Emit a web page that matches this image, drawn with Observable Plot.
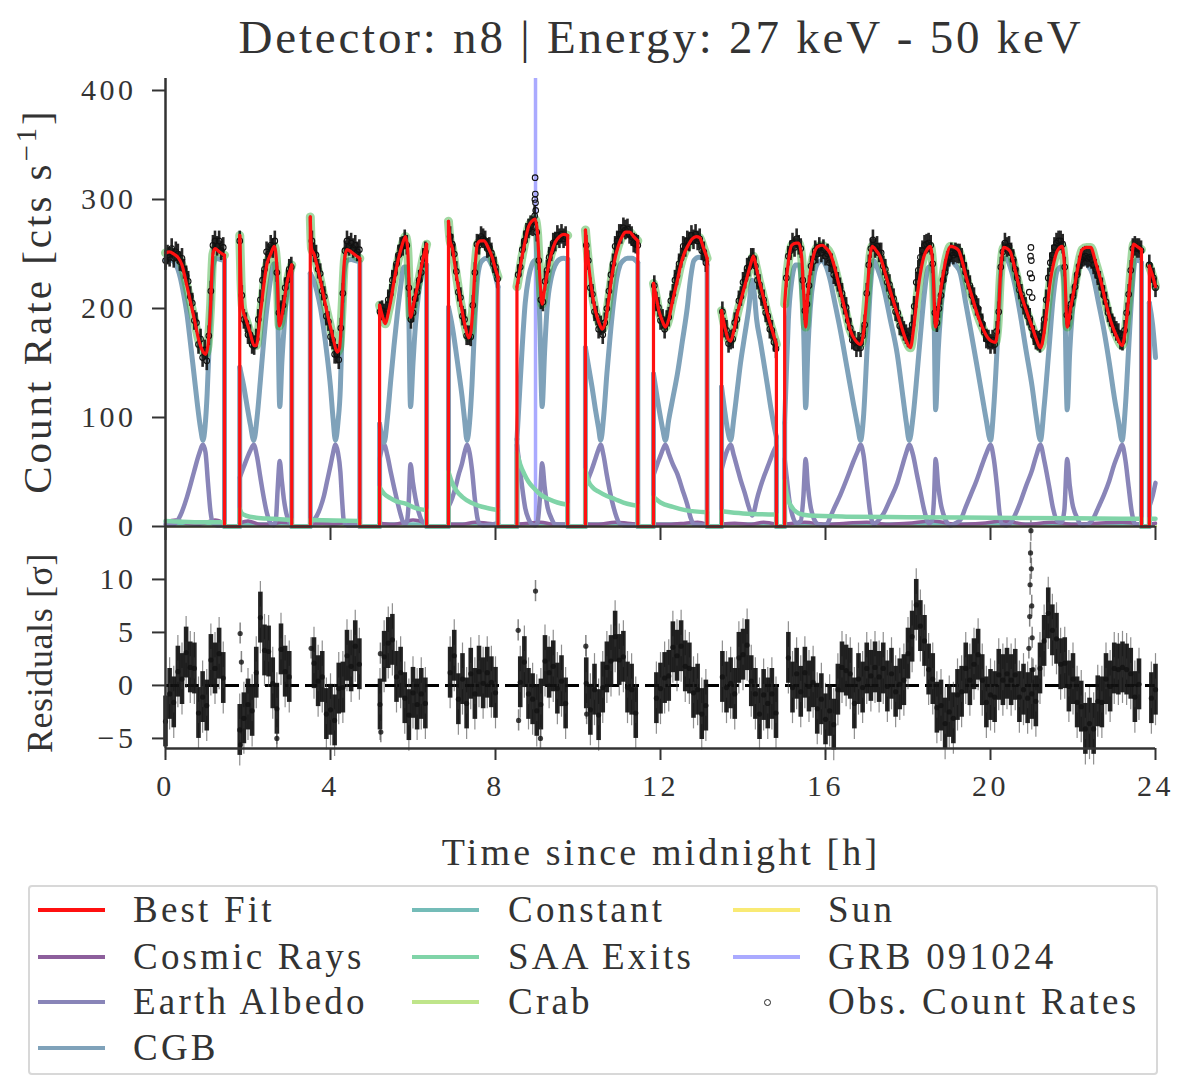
<!DOCTYPE html>
<html>
<head>
<meta charset="utf-8">
<script src="https://cdn.jsdelivr.net/npm/d3@7"></script>
<script src="https://cdn.jsdelivr.net/npm/@observablehq/plot@0.6"></script>
<style>
  body { margin: 0; background: #fff; }
  #wrap { position: relative; width: 1200px; height: 1078px; overflow: hidden;
          font-family: "Liberation Serif", serif; color: #333; }
  #wrap svg { position: absolute; left: 0; }
  #wrap svg text { letter-spacing: 3.5px; }
  .lbl { position: absolute; white-space: nowrap; line-height: 1; }
  .rot { transform: translate(-50%, -50%) rotate(-90deg); }
  .ctr { transform: translate(-50%, -50%); }
  #legend { position: absolute; left: 28px; top: 885px; width: 1126px; height: 186px;
            border: 2px solid #d8d8d8; border-radius: 4px; }
  .key { position: absolute; height: 4px; width: 67px; }
  .ktxt { position: absolute; font-size: 37px; letter-spacing: 3.2px; transform: translateY(-52%); white-space: nowrap; line-height: 1; }
</style>
</head>
<body>
<div id="wrap"></div>
<script>
// ---- data ----
// data segments (hours); the detector is off (SAA) between them
const segStart = [0, 1.80, 3.51, 5.19, 6.86, 8.52, 10.18, 11.83, 13.48, 15.01, 23.85]
const segEnd   = [1.43, 3.06, 4.71, 6.33, 8.06, 9.75, 11.45, 13.13, 14.81, 23.66, 24]

// best fit [t, cts/s], one array per segment
const bestFit = [
  [[0,251],[0.1,252],[0.2,250],[0.3,247],[0.4,240],[0.5,224],[0.6,207],[0.7,190],[0.8,172],[0.9,161],[0.97,158],[1.03,166],[1.09,200],[1.15,250],[1.2,255],[1.3,252],[1.43,249]],
  [[1.80,267],[1.83,225],[1.87,200],[1.95,190],[2.05,178],[2.15,166],[2.2,166],[2.3,195],[2.46,241],[2.55,250],[2.64,257],[2.7,238],[2.76,184],[2.85,200],[2.95,225],[3.06,240]],
  [[3.51,284],[3.54,255],[3.6,250],[3.67,240],[3.76,225],[3.84,210],[3.92,196],[4.0,183],[4.08,170],[4.16,160],[4.22,164],[4.28,200],[4.34,245],[4.4,254],[4.5,252],[4.6,249],[4.71,246]],
  [[5.19,203],[5.26,193],[5.33,186],[5.40,196],[5.46,207],[5.54,225],[5.62,241],[5.72,256],[5.82,266],[5.87,255],[5.94,192],[6.02,205],[6.14,226],[6.24,245],[6.33,259]],
  [[6.86,280],[6.90,262],[6.95,256],[7.03,236],[7.11,216],[7.19,198],[7.27,183],[7.35,173],[7.40,178],[7.45,200],[7.50,235],[7.56,259],[7.64,262],[7.72,262],[7.82,256],[7.92,247],[8.0,236],[8.06,229]],
  [[8.52,220],[8.58,233],[8.64,247],[8.72,262],[8.80,275],[8.88,280],[8.96,282],[9.02,268],[9.08,225],[9.13,204],[9.19,218],[9.25,232],[9.35,250],[9.45,261],[9.55,266],[9.65,268],[9.75,267]],
  [[10.18,272],[10.22,255],[10.30,226],[10.36,210],[10.42,198],[10.50,188],[10.59,181],[10.67,189],[10.75,210],[10.83,232],[10.91,248],[10.99,259],[11.07,266],[11.15,270],[11.25,270],[11.35,266],[11.45,262]],
  [[11.83,223],[11.90,210],[11.96,198],[12.04,189],[12.12,183],[12.20,190],[12.28,205],[12.41,226],[12.49,240],[12.57,250],[12.67,258],[12.77,264],[12.87,266],[12.95,265],[13.03,257],[13.13,246]],
  [[13.48,198],[13.56,183],[13.64,172],[13.70,170],[13.78,180],[13.86,195],[13.98,212],[14.10,229],[14.18,240],[14.25,248],[14.32,238],[14.39,226],[14.49,211],[14.59,195],[14.70,181],[14.81,167]],
  [[15.01,204],[15.05,225],[15.10,243],[15.18,258],[15.28,260],[15.35,260],[15.42,248],[15.47,215],[15.52,183],[15.57,212],[15.63,233],[15.72,250],[15.82,257],[15.92,258],[16.00,256],[16.12,250],[16.24,235],[16.36,216],[16.48,198],[16.60,180],[16.72,171],[16.85,167],[16.93,180],[17.01,215],[17.08,248],[17.13,257],[17.23,253],[17.33,247],[17.45,232],[17.57,216],[17.70,200],[17.82,186],[17.94,172],[18.06,164],[18.14,183],[18.22,210],[18.30,232],[18.38,247],[18.46,254],[18.54,257],[18.60,240],[18.67,183],[18.75,205],[18.83,226],[18.93,247],[19.03,257],[19.13,256],[19.23,253],[19.33,241],[19.43,226],[19.56,210],[19.68,195],[19.80,183],[19.92,174],[20.02,170],[20.12,169],[20.18,185],[20.24,230],[20.32,256],[20.40,255],[20.48,252],[20.60,235],[20.72,216],[20.86,199],[21.01,183],[21.11,172],[21.21,164],[21.30,178],[21.37,200],[21.45,225],[21.54,243],[21.62,253],[21.74,257],[21.80,235],[21.86,183],[21.94,200],[22.02,216],[22.12,238],[22.22,254],[22.33,256],[22.43,256],[22.55,242],[22.67,226],[22.79,206],[22.91,189],[23.05,175],[23.19,166],[23.27,180],[23.35,210],[23.42,243],[23.47,259],[23.55,257],[23.66,254]],
  [[23.85,239],[23.93,230],[24,220]]
]

const cgb = [
  [[0,244],[0.1,245],[0.2,243],[0.3,236],[0.36,228],[0.44,213],[0.52,195],[0.6,170],[0.69,140],[0.77,113],[0.85,90],[0.91,79],[0.96,92],[1.01,122],[1.06,168],[1.11,212],[1.16,240],[1.22,246],[1.32,245],[1.43,244]],
  [[1.80,146],[1.9,128],[1.98,110],[2.06,93],[2.14,79],[2.22,100],[2.30,134],[2.38,170],[2.46,201],[2.54,225],[2.63,241],[2.68,238],[2.72,200],[2.77,110],[2.82,150],[2.87,180],[2.93,210],[2.99,232],[3.06,238]],
  [[3.51,232],[3.59,226],[3.67,216],[3.76,200],[3.84,180],[3.92,156],[4.0,128],[4.06,100],[4.12,79],[4.18,95],[4.24,128],[4.28,180],[4.32,226],[4.36,240],[4.40,244],[4.5,245],[4.6,244],[4.71,243]],
  [[5.19,94],[5.25,82],[5.30,77],[5.38,100],[5.46,134],[5.54,166],[5.62,195],[5.70,220],[5.78,238],[5.84,238],[5.89,210],[5.94,110],[6.0,150],[6.06,185],[6.14,215],[6.22,232],[6.33,240]],
  [[6.86,201],[6.95,184],[7.03,164],[7.11,142],[7.19,119],[7.25,98],[7.31,79],[7.37,95],[7.43,130],[7.50,190],[7.56,226],[7.62,240],[7.68,244],[7.78,246],[7.88,242],[7.95,236],[8.06,220]],
  [[8.52,80],[8.58,120],[8.64,160],[8.72,205],[8.80,228],[8.88,240],[8.96,244],[9.02,238],[9.08,180],[9.13,110],[9.19,160],[9.25,200],[9.35,228],[9.45,240],[9.55,245],[9.65,246],[9.75,245]],
  [[10.18,164],[10.26,146],[10.34,128],[10.42,108],[10.50,90],[10.55,79],[10.62,100],[10.70,140],[10.78,175],[10.86,205],[10.94,228],[11.02,240],[11.10,244],[11.2,246],[11.31,246],[11.45,242]],
  [[11.83,140],[11.92,118],[12.0,100],[12.06,88],[12.12,79],[12.20,98],[12.30,118],[12.41,140],[12.53,170],[12.65,201],[12.73,228],[12.81,244],[12.93,247],[13.03,246],[13.13,240]],
  [[13.48,128],[13.55,108],[13.62,90],[13.70,79],[13.78,100],[13.86,125],[13.94,150],[14.04,175],[14.14,200],[14.22,226],[14.27,215],[14.33,190],[14.42,170],[14.51,149],[14.59,130],[14.67,110],[14.74,95],[14.81,82]],
  [[15.01,95],[15.05,140],[15.10,190],[15.18,225],[15.28,240],[15.36,240],[15.42,220],[15.47,180],[15.52,109],[15.57,160],[15.63,200],[15.72,230],[15.82,242],[15.92,244],[16.0,240],[16.12,225],[16.20,210],[16.36,180],[16.52,146],[16.68,112],[16.78,92],[16.85,79],[16.92,100],[17.01,164],[17.09,220],[17.17,244],[17.27,236],[17.41,219],[17.57,190],[17.74,158],[17.88,118],[17.96,95],[18.03,79],[18.12,100],[18.22,140],[18.30,175],[18.40,215],[18.50,238],[18.58,238],[18.63,200],[18.67,107],[18.73,160],[18.79,195],[18.90,230],[19.03,244],[19.15,240],[19.27,232],[19.40,205],[19.52,180],[19.66,150],[19.80,119],[19.90,97],[20.00,79],[20.08,110],[20.16,164],[20.22,215],[20.28,244],[20.38,246],[20.48,238],[20.60,220],[20.72,195],[20.86,162],[21.01,128],[21.11,100],[21.21,79],[21.30,110],[21.42,164],[21.52,210],[21.62,235],[21.72,238],[21.79,220],[21.86,107],[21.92,160],[21.98,195],[22.10,228],[22.22,244],[22.35,240],[22.47,232],[22.62,205],[22.75,180],[22.88,150],[23.00,119],[23.10,97],[23.19,79],[23.27,110],[23.35,164],[23.43,215],[23.51,244],[23.60,244],[23.66,242]],
  [[23.85,205],[23.93,185],[24,155]]
]

const earthAlbedo = [
  [[0,2],[0.2,2],[0.36,10],[0.52,27],[0.69,50],[0.81,66],[0.91,75],[0.97,68],[1.03,40],[1.09,14],[1.15,3],[1.25,1],[1.43,1]],
  [[1.80,45],[1.9,55],[1.98,63],[2.06,70],[2.14,75],[2.22,64],[2.30,45],[2.38,27],[2.46,12],[2.55,3],[2.63,1],[2.68,8],[2.72,35],[2.77,60],[2.82,42],[2.87,25],[2.93,12],[3.0,4],[3.06,2]],
  [[3.51,3],[3.6,6],[3.67,10],[3.76,18],[3.84,28],[3.92,42],[4.0,56],[4.06,67],[4.12,75],[4.18,68],[4.24,50],[4.28,25],[4.32,6],[4.4,1],[4.71,1]],
  [[5.19,62],[5.25,72],[5.30,75],[5.38,65],[5.46,50],[5.54,36],[5.62,23],[5.70,11],[5.78,3],[5.84,3],[5.89,18],[5.94,57],[6.0,40],[6.06,26],[6.14,13],[6.22,5],[6.33,2]],
  [[6.86,18],[6.95,26],[7.03,36],[7.11,48],[7.19,58],[7.25,68],[7.31,75],[7.37,68],[7.43,52],[7.50,25],[7.56,8],[7.62,2],[7.7,1],[8.06,3]],
  [[8.52,75],[8.58,57],[8.64,38],[8.72,17],[8.80,7],[8.88,2],[8.96,1],[9.02,4],[9.08,28],[9.13,58],[9.19,37],[9.25,20],[9.35,8],[9.45,2],[9.75,1]],
  [[10.18,36],[10.26,45],[10.34,53],[10.42,62],[10.50,71],[10.55,75],[10.62,65],[10.70,47],[10.78,31],[10.86,18],[10.94,8],[11.02,2],[11.2,1],[11.45,1]],
  [[11.83,47],[11.92,57],[12.0,65],[12.06,71],[12.12,75],[12.20,67],[12.30,57],[12.41,48],[12.53,34],[12.65,20],[12.73,8],[12.81,2],[13.13,1]],
  [[13.48,52],[13.55,62],[13.62,70],[13.70,75],[13.78,65],[13.86,54],[13.94,43],[14.04,31],[14.14,18],[14.22,10],[14.27,14],[14.33,24],[14.42,36],[14.51,46],[14.59,54],[14.67,62],[14.74,69],[14.81,74]],
  [[15.01,62],[15.06,45],[15.12,25],[15.2,10],[15.3,3],[15.4,5],[15.46,25],[15.52,62],[15.57,38],[15.63,20],[15.72,7],[15.82,2],[15.95,1],[16.05,3],[16.12,9],[16.20,16],[16.36,29],[16.52,44],[16.68,60],[16.78,69],[16.85,75],[16.92,66],[17.01,36],[17.09,11],[17.17,2],[17.27,5],[17.41,12],[17.57,25],[17.74,40],[17.88,58],[17.96,68],[18.03,75],[18.12,66],[18.22,47],[18.30,32],[18.40,14],[18.50,3],[18.58,5],[18.63,25],[18.67,62],[18.73,38],[18.79,22],[18.90,7],[19.03,1],[19.15,3],[19.27,6],[19.40,18],[19.52,29],[19.66,42],[19.80,57],[19.90,67],[20.00,75],[20.08,62],[20.16,36],[20.22,12],[20.28,2],[20.38,1],[20.48,3],[20.60,11],[20.72,22],[20.86,37],[21.01,52],[21.11,65],[21.21,75],[21.30,61],[21.42,37],[21.52,16],[21.62,5],[21.72,4],[21.79,15],[21.86,62],[21.92,38],[21.98,22],[22.10,8],[22.22,1],[22.35,2],[22.47,6],[22.62,18],[22.75,29],[22.88,42],[23.00,57],[23.10,67],[23.19,75],[23.27,61],[23.35,36],[23.43,12],[23.51,2],[23.66,2]],
  [[23.85,18],[23.93,28],[24,40]]
]

const saaExits = [
  [[0,5],[0.7,4],[1.43,4]],
  [[1.80,16],[1.85,12],[1.95,10],[2.2,8],[2.6,7],[3.06,6]],
  [[3.51,6],[4.71,5]],
  [[5.19,36],[5.3,30],[5.45,26],[5.6,23],[5.82,21],[6.05,17],[6.33,15]],
  [[6.86,50],[6.95,40],[7.05,33],[7.2,27],[7.4,22],[7.6,19],[7.8,17],[8.06,15]],
  [[8.52,68],[8.6,57],[8.7,48],[8.8,41],[8.96,34],[9.1,29],[9.3,25],[9.5,22],[9.75,20]],
  [[10.18,52],[10.25,42],[10.35,36],[10.5,32],[10.7,28],[10.9,25],[11.1,22],[11.3,20],[11.45,19]],
  [[11.83,27],[12.0,22],[12.3,18],[12.6,15],[13.13,13]],
  [[13.48,14],[14.0,12],[14.81,11]],
  [[15.01,42],[15.06,30],[15.12,22],[15.2,17],[15.35,12],[15.6,10],[16.5,9],[18,8.5],[20,8],[22,7.5],[23.66,7]],
  [[23.85,7],[24,7]]
]

const cosmicRays = [
  [[0,4],[0.25,6],[0.5,3],[0.8,2],[1.1,5],[1.2,6],[1.43,3]],
  [[1.80,3],[2.0,5],[2.3,2],[2.6,2],[2.8,4],[3.06,3]],
  [[3.51,2],[3.8,3],[4.1,2],[4.4,4],[4.71,2]],
  [[5.19,3],[5.5,2],[5.8,4],[6.0,6],[6.33,3]],
  [[6.86,2],[7.2,2],[7.5,4],[7.8,3],[8.06,2]],
  [[8.52,2],[8.8,3],[9.1,4],[9.4,2],[9.75,2]],
  [[10.18,2],[10.5,2],[10.9,4],[11.2,3],[11.45,2]],
  [[11.83,2],[12.2,2],[12.6,3],[12.9,4],[13.13,2]],
  [[13.48,2],[13.8,3],[14.2,2],[14.5,4],[14.81,2]],
  [[15.01,2],[15.5,4],[16.0,2],[16.5,3],[17.0,4],[17.5,2],[18.0,3],[18.6,5],[19.2,2],[19.8,3],[20.3,5],[20.9,2],[21.5,4],[22.0,2],[22.6,3],[23.2,4],[23.66,2]],
  [[23.85,2],[24,3]]
]

const constantRate = 2.6
const crabRate = 1.3
const sunRate = 0.5
const grbTime = 8.97

// observed count rates, sampled every 0.05 h: [first time, values]
const obsStep = 0.05
const obsScatter = 9   // half-width of the cloud of short bins around each value, cts/s
const obsBlocks = [
  [0.00, [244,249,247,255,246,252,250,243,246,236,230,225,211,205,189,187,167,172,155,162,152,175,216,258,262,257,262,253,256]],
  [1.80, [262,212,190,187,176,176,167,166,172,190,208,226,236,252,250,258,255,262,233,196,198,203,219,226,236,238]],
  [3.55, [262,251,249,236,232,216,211,193,188,174,171,158,158,153,182,214,253,262,257,260,255,258,252,254]],
  [5.20, [197,198,195,197,208,213,226,232,241,249,256,257,263,258,219,190,196,209,215,226,233,246,252]],
  [6.90, [266,259,250,234,215,210,193,190,175,175,174,203,233,259,258,266,264,262,255,256,251,241,238,227]],
  [8.55, [231,238,254,262,269,273,276,275,285,270,244,208,206,225,235,247,252,260,261,267,264,268,264,266]],
  [10.20, [258,244,219,213,197,193,181,184,176,187,200,216,231,241,257,262,268,268,274,272,273,268,266,260,259,258]],
  [11.85, [221,206,201,189,190,181,189,192,207,213,226,230,241,246,257,256,262,261,267,263,268,262,264,253,252,242]],
  [13.50, [197,182,180,168,171,172,187,190,207,211,224,227,237,238,246,246,239,226,222,211,208,196,193,181,180,169,163]],
  [15.05, [228,248,253,260,256,264,258,255,226,198,204,221,239,243,253,250,256,251,254]],
  [16.00, [248,250,242,241,231,229,224,219,214,203,201,189,182,171,170,164,169,164,175,185]],
  [17.00, [214,240,255,263,255,257,251,251,239,236,224,222,211,209,197,196,184,183,179,176]],
  [18.00, [173,174,185,202,224,235,247,253,258,259,260,258,241,196,187,200,212,226,233,243]],
  [19.00, [247,251,249,251,250,250,246,240,233,226,221,212,210,202,200,192,186,178,172,171]],
  [20.00, [167,171,167,179,197,238,252,260,256,257,251,245,236,228,217,213,203,201,193,191]],
  [21.00, [182,175,171,170,168,178,190,208,228,242,249,256,260,262,262,259,238,194,192,204]],
  [22.00, [211,220,231,239,245,247,248,246,247,245,240,236,230,225,219,212,206,196,192,186]],
  [23.00, [183,179,177,171,170,180,196,213,235,255,257,255,255,253]],
  [23.85, [240,232,228,219]]
]
// single bins off the regular grid (burst at 8.97 h, transient near 21 h)
const obsExtra = [[8.955,300],[8.96,320],[8.965,305],[8.97,297],[8.975,290],
  [20.94,215],[20.96,232],[20.97,248],[20.98,256],[20.99,244],[21.00,228],[21.01,210]]

// residuals in sigma, sampled every 0.1 h
const residStep = 0.1
const residScatter = 2.4   // half-width of the residual cloud around each value, sigma
const residBlocks = [
  [0.0, [-3.4,-0.8,-1.6,1.3,0.6,3.1,1.7,1.6,-2.6,-1.1,-1.9,2.4,1.6,3.0,0.7]],
  [1.8, [-4.2,-3.1,-1.8,-2.4,1.2,6.4,3.3,3.2,0.2,-2.2,3.4,1.3,0.8]],
  [3.6, [2.1,0.4,0.8,-2.7,-2.3,-3.3,-0.3,-0.2,2.8,1.8,3.7,2.0]],
  [5.2, [-1.8,2.7,4.0,4.3,0.8,1.2,-1.2,-2.8,-0.7,-1.8,-0.8,-1.7]],
  [6.9, [1.2,2.8,-1.3,0.6,-1.7,1.1,-0.8,1.3,0.2,1.2,0.3,-0.7]],
  [8.6, [0.3,2.2,-0.8,-1.3,-2.4,-1.8,2.3,1.2,1.8,-0.3,0.4,-1.7]],
  [10.2, [0.2,-2.3,-0.4,-2.8,-0.2,1.7,2.3,4.6,2.4,2.7,-0.2,-0.4,-2.6]],
  [11.9, [-1.2,-0.3,0.7,0.9,3.6,2.8,3.7,1.8,1.6,-0.7,-0.4,-2.7,-1.9]],
  [13.5, [0.8,-0.2,0.2,-0.8,2.6,2.9,3.8,0.4,-0.8,-2.7,-0.9,-1.7,-0.8,-2.6]],
  [15.1, [2.6,-0.2,1.1,-0.6,1.2,-0.1,0.3,-2.2,-1.3]],
  [16.0, [-3.2,-2.4,-3.7,-0.4,1.7,1.4,1.1,-1.7,0.6,-0.2]],
  [17.0, [1.6,0.9,1.7,0.8,1.6,-0.1,1.1,-0.6,0.1,0.5]],
  [18.0, [3.0,4.6,7.6,5.6,4.2,1.5,0.6,-2.1,-1.9,-3.6]],
  [19.0, [-2.5,-3.1,-0.9,-0.6,1.6,0.5,2.0,2.9,0.5,-1.6]],
  [20.0, [-0.9,-1.1,1.0,0.5,1.1,0.5,1.0,-1.1,-0.4,-1.2]],
  [21.0, [-0.8,-1.5,1.6,4.2,6.8,5.2,4.4,2.0,2.1,-0.1]],
  [22.0, [0.6,-1.6,-2.0,-4.1,-3.6,-4.1,-1.5,-1.6,0.6,-0.1]],
  [23.0, [1.6,1.5,1.7,1.5,1.1,-1.1,0.1]],
  [23.9, [-1.2,-0.4]]
]
const residExtra = [[1.81,4.9],[1.82,-5.6],[1.84,2.2],[2.7,-5.0],[3.53,3.5],[5.21,3.0],[5.22,-4.4],
  [8.55,5.2],[8.56,-3.3],[8.97,8.9],[9.09,-5.0],[10.19,3.7],[10.21,-2.7],
  [20.93,3.5],[20.95,6.5],[20.96,9.5],[20.97,12.5],[20.98,14.6],[20.99,11],[21.0,7.5],[21.01,4.5],[21.03,1.5]]

const xTicks = [0, 4, 8, 12, 16, 20, 24]
const rateTicks = [0, 100, 200, 300, 400]
const residTicks = [-5, 0, 5, 10]
const rateDomain = [0, 411]
const residDomain = [-5.95, 14.9]

const colors = {
  bestFit: "#ff1010", cosmic: "#8d5f9c", albedo: "#8985b8", cgb: "#7fa2ba",
  constant: "#74bcb8", saa: "#80d4a8", crab: "#bfe58a", sun: "#f9ea74", grb: "#aaaaff"
}

// ---- helpers ----
const blocks = (list, step) => list.flatMap(([t0, vals]) => vals.map((v, i) => ({t: +(t0 + i * step).toFixed(3), v})))
const pairs = list => list.map(([t, v]) => ({t, v}))
const flat = v => segStart.map((s, i) => [[s, v], [segEnd[i], v]])

// smooth curve inside each segment, straight drop to zero across each gap
function component(segs, stroke, strokeWidth) {
  const curves = [], joins = []
  segs.forEach((s, i) => {
    s.forEach(([t, v]) => curves.push({t, v, z: i}))
    if (i < segs.length - 1) {
      const a = s[s.length - 1], b = segs[i + 1][0]
      joins.push({t: a[0], v: a[1], z: i}, {t: a[0], v: 0, z: i}, {t: b[0], v: 0, z: i}, {t: b[0], v: b[1], z: i})
    }
  })
  return [
    Plot.line(joins, {x: "t", y: "v", z: "z", stroke, strokeWidth, strokeLinejoin: "round"}),
    Plot.line(curves, {x: "t", y: "v", z: "z", stroke, strokeWidth, curve: "monotone-x", strokeLinejoin: "round"})
  ]
}

const obsGrid = blocks(obsBlocks, obsStep)
const obs = obsGrid.concat(pairs(obsExtra))
const residGrid = blocks(residBlocks, residStep)
const resid = residGrid.concat(pairs(residExtra))
const fitCurves = bestFit.flatMap((s, i) => s.map(([t, v]) => ({t, v, z: i})))

const axisStyle = {fontFamily: "Liberation Serif, serif", fontSize: "30px", color: "#333", background: "transparent", overflow: "visible"}
const minus = d => d < 0 ? "\u2212" + Math.abs(d) : String(d)

const upperPanel = Plot.plot({
  width: 1200, height: 546,
  marginLeft: 165, marginRight: 45, marginTop: 78, marginBottom: 20,
  style: axisStyle,
  x: {domain: [0, 24]},
  y: {domain: rateDomain},
  marks: [
    Plot.ruleX([grbTime], {stroke: colors.grb, strokeWidth: 3.5}),
    ...component(flat(sunRate), colors.sun, 3),
    ...component(flat(crabRate), colors.crab, 3),
    ...component(flat(constantRate), colors.constant, 3),
    ...component(cosmicRays, colors.cosmic, 3.5),
    ...component(earthAlbedo, colors.albedo, 4.5),
    ...component(cgb, colors.cgb, 5),
    ...component(saaExits, colors.saa, 4.5),
    Plot.line(fitCurves, {x: "t", y: "v", z: "z", stroke: "#2ea82e", strokeOpacity: 0.45, strokeWidth: 9, curve: "monotone-x"}),
    Plot.ruleX(obsGrid, {x: "t", y1: d => d.v - obsScatter, y2: d => d.v + obsScatter, stroke: "#111", strokeOpacity: 0.9, strokeWidth: 2.6}),
    Plot.dot(obs, {x: "t", y: "v", r: 2.8, stroke: "#111", strokeWidth: 1.1, fill: "none"}),
    ...component(bestFit, colors.bestFit, 3.2),
    Plot.ruleX([0], {stroke: "#333", strokeWidth: 2.5}),
    Plot.ruleY([rateDomain[0]], {stroke: "#333", strokeWidth: 2.5}),
    Plot.axisX({ticks: xTicks, tickSize: 14, tickFormat: () => "", label: null, strokeWidth: 2, stroke: "#333"}),
    Plot.axisY({ticks: rateTicks, tickSize: 13, tickPadding: 16, label: null, strokeWidth: 2, stroke: "#333", fontSize: 30})
  ]
})
upperPanel.style.top = "0px"

const lowerPanel = Plot.plot({
  width: 1200, height: 330,
  marginLeft: 165, marginRight: 45, marginTop: 27, marginBottom: 82,
  style: axisStyle,
  x: {domain: [0, 24]},
  y: {domain: residDomain},
  marks: [
    Plot.ruleY([0], {stroke: "#000", strokeWidth: 3, strokeDasharray: "14,6"}),
    Plot.ruleX(residGrid, {x: "t", y1: d => d.v - residScatter - 1, y2: d => d.v + residScatter + 1, stroke: "#444", strokeOpacity: 0.6, strokeWidth: 1.2}),
    Plot.ruleX(residGrid, {x: "t", y1: d => d.v - residScatter, y2: d => d.v + residScatter, stroke: "#111", strokeOpacity: 0.92, strokeWidth: 4.6}),
    Plot.ruleX(resid, {x: "t", y1: d => d.v - 1, y2: d => d.v + 1, stroke: "#333", strokeOpacity: 0.6, strokeWidth: 1.5}),
    Plot.dot(resid, {x: "t", y: "v", r: 2.6, fill: "#111", fillOpacity: 0.8}),
    Plot.ruleX([0], {stroke: "#333", strokeWidth: 2.5}),
    Plot.ruleY([residDomain[0]], {stroke: "#333", strokeWidth: 2.5}),
    Plot.axisX({ticks: xTicks, tickSize: 12, tickPadding: 14, label: null, strokeWidth: 2, stroke: "#333", fontSize: 30}),
    Plot.axisY({ticks: residTicks, tickSize: 13, tickPadding: 16, tickFormat: minus, label: null, strokeWidth: 2, stroke: "#333", fontSize: 30})
  ]
})
lowerPanel.style.top = "500px"

const wrap = document.getElementById("wrap")
wrap.append(lowerPanel, upperPanel)

// ---- text ----
function label(html, x, y, size, cls, spacing) {
  const d = document.createElement("div")
  d.className = "lbl " + cls
  d.style.left = x + "px"; d.style.top = y + "px"
  d.style.fontSize = size + "px"; d.style.letterSpacing = spacing + "px"
  d.innerHTML = html
  wrap.append(d)
}
label("Detector: n8 | Energy: 27 keV - 50 keV", 661, 37, 47, "ctr", 2.8)
label("Count Rate [cts s<sup style='font-size:0.7em'>\u22121</sup>]", 35, 301, 41, "rot", 3)
label("Residuals [\u03c3]", 40, 653, 36, "rot", 0.6)
label("Time since midnight [h]", 661, 852, 38, "ctr", 3.1)

// ---- legend ----
const legendItems = [
  ["Best Fit", colors.bestFit, 0, 0], ["Cosmic Rays", colors.cosmic, 0, 1], ["Earth Albedo", colors.albedo, 0, 2], ["CGB", colors.cgb, 0, 3],
  ["Constant", colors.constant, 1, 0], ["SAA Exits", colors.saa, 1, 1], ["Crab", colors.crab, 1, 2],
  ["Sun", colors.sun, 2, 0], ["GRB 091024", colors.grb, 2, 1], ["Obs. Count Rates", null, 2, 2]
]
const keyX = [8, 382, 703], textX = [103, 478, 798], rowY = [23, 70, 115, 161]
const legend = document.createElement("div")
legend.id = "legend"
wrap.append(legend)
for (const [name, color, col, row] of legendItems) {
  const k = document.createElement("div")
  if (color) {
    k.className = "key"
    k.style.cssText = `left:${keyX[col]}px;top:${rowY[row] - 2}px;background:${color}`
  } else {
    k.style.cssText = `position:absolute;left:${keyX[col] + 31}px;top:${rowY[row] - 3}px;width:5px;height:5px;border:1px solid #222;border-radius:50%`
  }
  const t = document.createElement("div")
  t.className = "ktxt"
  t.style.left = textX[col] + "px"; t.style.top = rowY[row] + "px"
  t.textContent = name
  legend.append(k, t)
}
</script>
</body>
</html>
